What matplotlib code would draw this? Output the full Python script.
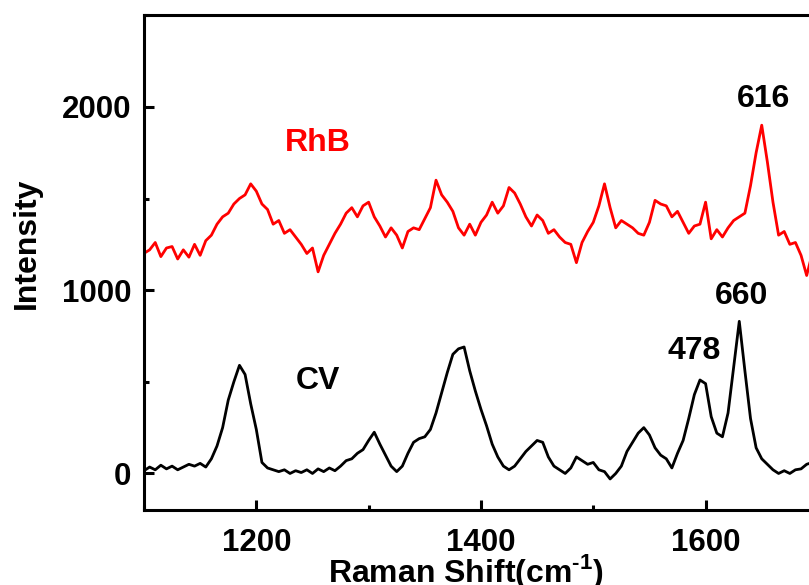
import matplotlib
matplotlib.use("Agg")
import matplotlib.pyplot as plt
from matplotlib.ticker import MultipleLocator

plt.rcParams['font.family'] = ['Liberation Sans', 'DejaVu Sans']
plt.rcParams['font.weight'] = 'bold'
plt.rcParams['mathtext.fontset'] = 'custom'
plt.rcParams['mathtext.bf'] = 'Liberation Sans:bold'
plt.rcParams['mathtext.rm'] = 'Liberation Sans:bold'

# Raman shift grid (cm-1)
shift = [1100, 1105, 1110, 1115, 1120, 1125, 1130, 1135, 1140, 1145,
         1150, 1155, 1160, 1165, 1170, 1175, 1180, 1185, 1190, 1195,
         1200, 1205, 1210, 1215, 1220, 1225, 1230, 1235, 1240, 1245,
         1250, 1255, 1260, 1265, 1270, 1275, 1280, 1285, 1290, 1295,
         1300, 1305, 1310, 1315, 1320, 1325, 1330, 1335, 1340, 1345,
         1350, 1355, 1360, 1365, 1370, 1375, 1380, 1385, 1390, 1395,
         1400, 1405, 1410, 1415, 1420, 1425, 1430, 1435, 1440, 1445,
         1450, 1455, 1460, 1465, 1470, 1475, 1480, 1485, 1490, 1495,
         1500, 1505, 1510, 1515, 1520, 1525, 1530, 1535, 1540, 1545,
         1550, 1555, 1560, 1565, 1570, 1575, 1580, 1585, 1590, 1595,
         1600, 1605, 1610, 1615, 1620, 1625, 1630, 1635, 1640, 1645,
         1650, 1655, 1660, 1665, 1670, 1675, 1680, 1685, 1690, 1695,
         1700]

rhb = [1201, 1220, 1260, 1183, 1230, 1238, 1170, 1220, 1180, 1250,
       1190, 1270, 1300, 1360, 1400, 1420, 1470, 1500, 1520, 1580,
       1540, 1470, 1440, 1360, 1380, 1310, 1330, 1290, 1250, 1200,
       1230, 1100, 1190, 1250, 1310, 1360, 1420, 1450, 1400, 1460,
       1480, 1400, 1350, 1290, 1340, 1300, 1230, 1320, 1340, 1330,
       1390, 1450, 1600, 1520, 1480, 1430, 1340, 1300, 1360, 1300,
       1370, 1410, 1480, 1420, 1460, 1560, 1530, 1470, 1400, 1350,
       1410, 1380, 1310, 1330, 1290, 1260, 1250, 1150, 1260, 1320,
       1370, 1460, 1580, 1450, 1340, 1380, 1360, 1340, 1310, 1300,
       1370, 1490, 1470, 1460, 1400, 1430, 1370, 1310, 1350, 1360,
       1480, 1280, 1330, 1290, 1340, 1380, 1400, 1420, 1570, 1750,
       1900, 1700, 1480, 1300, 1320, 1250, 1260, 1190, 1080, 1200,
       1230]

cv = [15, 35, 20, 45, 25, 40, 20, 35, 50, 40,
      55, 35, 80, 150, 250, 400, 500, 590, 540, 380,
      240, 60, 30, 20, 10, 20, 0, 15, 5, 20,
      0, 25, 10, 30, 15, 40, 70, 80, 110, 130,
      180, 225, 160, 100, 40, 10, 40, 110, 170, 190,
      200, 240, 330, 440, 550, 650, 680, 690, 560, 450,
      350, 260, 160, 90, 40, 20, 40, 80, 120, 150,
      180, 170, 90, 40, 20, 0, 30, 90, 70, 50,
      60, 20, 10, -30, 0, 40, 120, 170, 220, 250,
      210, 140, 100, 80, 30, 110, 180, 300, 430, 510,
      490, 310, 220, 200, 330, 580, 830, 560, 300, 140,
      80, 50, 20, 0, 15, 0, 20, 25, 50, 60,
      50]

fig = plt.figure(figsize=(8.09, 5.85), dpi=100)
ax = fig.add_axes([0.178, 0.128, 0.833, 0.846])

ax.plot(shift, cv, color='black', lw=2.0)
ax.plot(shift, rhb, color='red', lw=2.0)

ax.set_xlim(1100, 1700)
ax.set_ylim(-200, 2500)
ax.xaxis.set_major_locator(MultipleLocator(200))
ax.xaxis.set_minor_locator(MultipleLocator(100))
ax.yaxis.set_major_locator(MultipleLocator(1000))
ax.yaxis.set_minor_locator(MultipleLocator(500))

ax.tick_params(which='both', direction='in', width=2.2, labelsize=22.5,
               top=False, right=False)
ax.tick_params(which='major', length=7)
ax.tick_params(axis='x', which='major', pad=13)
ax.tick_params(axis='y', which='major', pad=9)
ax.tick_params(which='minor', length=3.5)
for s in ax.spines.values():
    s.set_linewidth(2.2)

ax.set_xlabel('Raman Shift(cm$^{\\mathbf{\\text{-}1}}$)', fontsize=23, fontweight='bold')
ax.set_ylabel('Intensity', fontsize=23, fontweight='bold')
ax.xaxis.set_label_coords(0.477, -0.085)
ax.yaxis.set_label_coords(-0.152, 0.54)

ax.text(1225.6, 1805, 'RhB', color='red', fontsize=23, fontweight='bold', ha='left', va='center')
ax.text(1235.4, 505, 'CV', color='black', fontsize=23, fontweight='bold', ha='left', va='center')
ax.text(1652, 2044, '616', fontsize=23, fontweight='bold', ha='center', va='center')
ax.text(1632, 967, '660', fontsize=23, fontweight='bold', ha='center', va='center')
ax.text(1590, 670, '478', fontsize=23, fontweight='bold', ha='center', va='center')

plt.savefig('out.png', dpi=100)
